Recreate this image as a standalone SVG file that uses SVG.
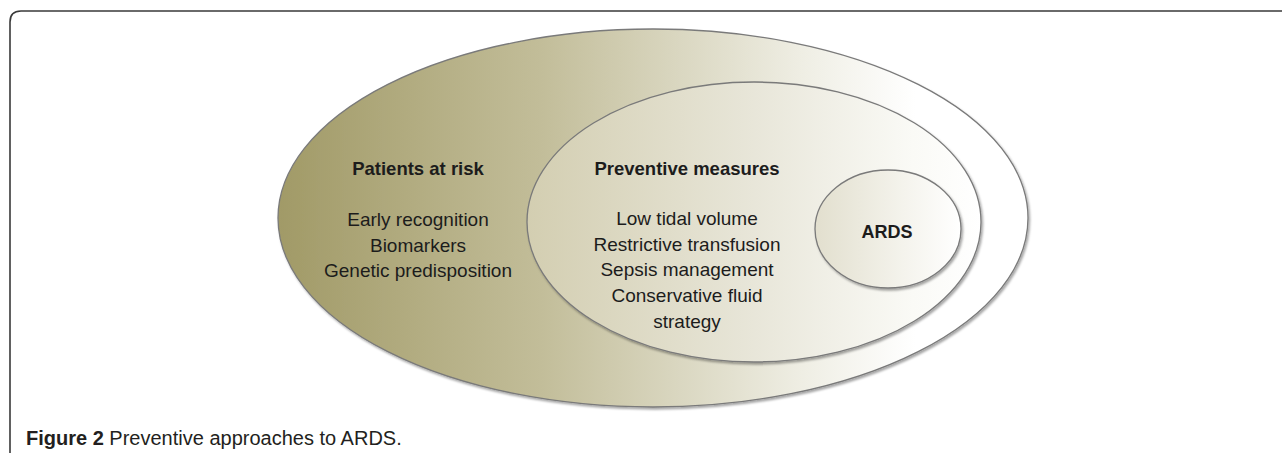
<svg xmlns="http://www.w3.org/2000/svg" width="1282" height="453" viewBox="0 0 1282 453">
  <defs>
    <linearGradient id="gOuter" gradientUnits="userSpaceOnUse" x1="278" y1="0" x2="1028" y2="0">
      <stop offset="0" stop-color="#a19a67"/>
      <stop offset="0.35" stop-color="#c2bd99"/>
      <stop offset="0.7" stop-color="#efeee4"/>
      <stop offset="0.85" stop-color="#ffffff"/>
      <stop offset="1" stop-color="#ffffff"/>
    </linearGradient>
    <linearGradient id="gMiddle" gradientUnits="userSpaceOnUse" x1="527" y1="0" x2="981" y2="0">
      <stop offset="0" stop-color="#d3ceb1"/>
      <stop offset="0.5" stop-color="#e8e6d9"/>
      <stop offset="0.85" stop-color="#fafaf6"/>
      <stop offset="1" stop-color="#ffffff"/>
    </linearGradient>
    <linearGradient id="gInner" gradientUnits="userSpaceOnUse" x1="815" y1="0" x2="961" y2="0">
      <stop offset="0" stop-color="#e2dfce"/>
      <stop offset="0.6" stop-color="#f4f3ec"/>
      <stop offset="1" stop-color="#ffffff"/>
    </linearGradient>
    <filter id="shadow" x="-5%" y="-5%" width="110%" height="115%">
      <feDropShadow dx="1.5" dy="2" stdDeviation="1.2" flood-color="#000000" flood-opacity="0.35"/>
    </filter>
  </defs>
  <style>
    .ell { stroke: #7a7a7a; stroke-width: 1.3; filter: url(#shadow); }
    .t { font-family: "Liberation Sans", Arial, sans-serif; font-size: 19px; fill: #1c1c1c; text-anchor: middle; }
    .b { font-weight: bold; font-size: 18.5px; }
    .cap { font-family: "Liberation Sans", Arial, sans-serif; font-size: 20px; fill: #231f20; }
  </style>
  <rect x="0" y="0" width="1282" height="453" fill="#ffffff"/>
  <path d="M10,453 V22 Q10,11 21,11 H1282" fill="none" stroke="#3a3a3a" stroke-width="1.6"/>

  <g id="outer">
    <ellipse class="ell" cx="653" cy="218" rx="375" ry="189" fill="url(#gOuter)"/>
    <text class="t b" x="418" y="175">Patients at risk</text>
    <text class="t" x="418" y="226">Early recognition</text>
    <text class="t" x="418" y="252">Biomarkers</text>
    <text class="t" x="418" y="277">Genetic predisposition</text>
  </g>

  <g id="middle">
    <ellipse class="ell" cx="754" cy="222" rx="227" ry="140" fill="url(#gMiddle)"/>
    <text class="t b" x="687" y="175">Preventive measures</text>
    <text class="t" x="687" y="225">Low tidal volume</text>
    <text class="t" x="687" y="251">Restrictive transfusion</text>
    <text class="t" x="687" y="276">Sepsis management</text>
    <text class="t" x="687" y="302">Conservative fluid</text>
    <text class="t" x="687" y="328">strategy</text>
  </g>

  <g id="inner">
    <ellipse class="ell" cx="888" cy="229" rx="73" ry="59" fill="url(#gInner)"/>
    <text class="t b" x="887" y="238" style="font-size:18px">ARDS</text>
  </g>

  <g id="connectors"/>

  <text class="cap" x="26" y="445"><tspan font-weight="bold">Figure 2</tspan> Preventive approaches to ARDS.</text>
</svg>
